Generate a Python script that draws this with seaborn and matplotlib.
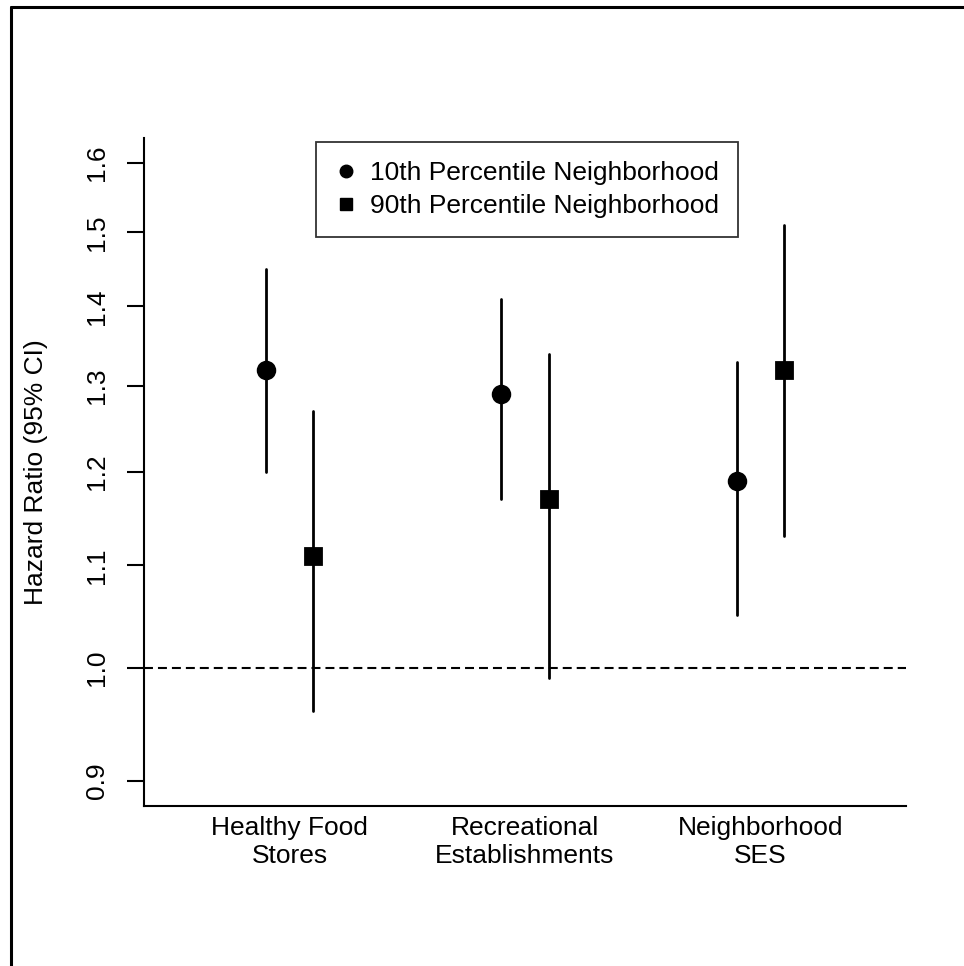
import pandas as pd
import matplotlib
matplotlib.use("Agg")
import matplotlib.pyplot as plt
import seaborn as sns
from matplotlib.lines import Line2D

sns.set_theme(style="ticks")
plt.rcParams["font.family"] = ["Liberation Sans", "DejaVu Sans"]
plt.rcParams["text.color"] = "black"

# data
categories = ["Healthy Food\nStores", "Recreational\nEstablishments", "Neighborhood\nSES"]
groups = ["10th Percentile Neighborhood", "90th Percentile Neighborhood"]
hr_10 = [1.32, 1.29, 1.19]
lo_10 = [1.20, 1.17, 1.05]
hi_10 = [1.45, 1.41, 1.33]
hr_90 = [1.11, 1.17, 1.32]
lo_90 = [0.96, 0.99, 1.13]
hi_90 = [1.27, 1.34, 1.51]
yticks = [0.9, 1.0, 1.1, 1.2, 1.3, 1.4, 1.5, 1.6]

# long table: lower, point and upper per cell -> median = point, min/max = CI
rows = []
for g, hr, lo, hi in [(groups[0], hr_10, lo_10, hi_10), (groups[1], hr_90, lo_90, hi_90)]:
    for c, h, l, u in zip(categories, hr, lo, hi):
        for v in (l, h, u):
            rows.append({"category": c, "group": g, "hr": v})
df = pd.DataFrame(rows)

fig = plt.figure(figsize=(9.64, 9.66), dpi=100)
ax = fig.add_axes([144 / 964, 1 - 806 / 966, (906 - 144) / 964, (806 - 138) / 966])

sns.pointplot(data=df, x="category", y="hr", hue="group", order=categories, hue_order=groups,
              estimator="median", errorbar=lambda x: (x.min(), x.max()),
              dodge=0.2, linestyle="none", markers=["o", "s"], palette=["black", "black"],
              markersize=12, err_kws={"linewidth": 2.0}, ax=ax)

ax.axhline(1.0, color="black", linewidth=1.5, dashes=(4.3, 2.4), zorder=0)

ax.set_yscale("log")
ax.set_ylim(0.879, 1.638)
ax.set_xlim(-0.618, 2.618)
ax.set_yticks(yticks)
ax.set_yticklabels([f"{t:.1f}" for t in yticks], rotation=90, va="center", fontsize=19)
ax.yaxis.set_minor_locator(matplotlib.ticker.NullLocator())
ax.tick_params(axis="y", length=12, width=1.5, color="black", pad=13, labelcolor="black")
ax.tick_params(axis="x", length=0, pad=7, labelsize=19, labelcolor="black")
ax.set_xlabel("")
ax.set_ylabel("Hazard Ratio (95% CI)", fontsize=19, color="black", labelpad=27)

sns.despine(ax=ax)
for s in ["left", "bottom"]:
    ax.spines[s].set_color("black")
    ax.spines[s].set_linewidth(1.5)

handles = [Line2D([], [], marker="o", ls="none", color="black", markersize=9),
           Line2D([], [], marker="s", ls="none", color="black", markersize=8)]
leg = ax.legend(handles, groups, loc="upper center", bbox_to_anchor=(0.5026, 0.994),
                fontsize=19, frameon=True, fancybox=False, edgecolor="black",
                handlelength=0.8, handletextpad=0.5, borderpad=0.72, labelspacing=0.35,
                borderaxespad=0, labelcolor="black")
leg.get_frame().set_linewidth(1.3)

# outer frame (right and bottom sides fall outside the image)
fig.add_artist(Line2D([11 / 964, 11 / 964], [0, 1 - 7 / 966], color="black", linewidth=2.2))
fig.add_artist(Line2D([11 / 964, 1], [1 - 7 / 966, 1 - 7 / 966], color="black", linewidth=2.2))

fig.savefig("out.png", dpi=100)
